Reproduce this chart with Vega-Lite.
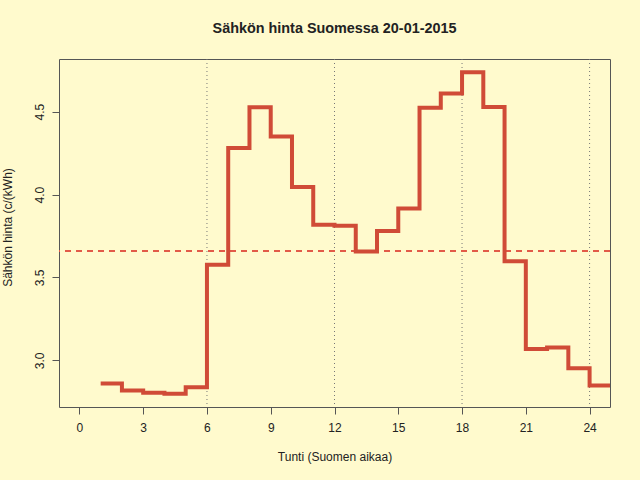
{
  "$schema": "https://vega.github.io/schema/vega-lite/v6.json",
  "autosize": "none",
  "padding": {"left": 59, "top": 59, "right": 30, "bottom": 73},
  "width": 551,
  "height": 348,
  "background": "#FFFACD",
  "title": {
    "text": "Sähkön hinta Suomessa 20-01-2015",
    "font": "Liberation Sans",
    "fontSize": 14.4,
    "fontWeight": "bold",
    "color": "#222222",
    "anchor": "middle",
    "frame": "group",
    "offset": 22
  },
  "config": {
    "view": {"stroke": "#555555", "strokeWidth": 1, "fill": null},
    "axis": {
      "labelFont": "Liberation Sans",
      "titleFont": "Liberation Sans",
      "labelFontSize": 12,
      "titleFontSize": 12,
      "titleFontWeight": "normal",
      "labelColor": "#222222",
      "titleColor": "#222222",
      "domainColor": "#555555",
      "tickColor": "#555555",
      "tickSize": 7,
      "grid": false
    }
  },
  "datasets": {
    "hinta": [
      {"tunti": 1, "hinta": 2.86},
      {"tunti": 2, "hinta": 2.818},
      {"tunti": 3, "hinta": 2.804},
      {"tunti": 4, "hinta": 2.798},
      {"tunti": 5, "hinta": 2.838},
      {"tunti": 6, "hinta": 3.576},
      {"tunti": 7, "hinta": 4.28},
      {"tunti": 8, "hinta": 4.526},
      {"tunti": 9, "hinta": 4.35},
      {"tunti": 10, "hinta": 4.046},
      {"tunti": 11, "hinta": 3.818},
      {"tunti": 12, "hinta": 3.812},
      {"tunti": 13, "hinta": 3.657},
      {"tunti": 14, "hinta": 3.78},
      {"tunti": 15, "hinta": 3.916},
      {"tunti": 16, "hinta": 4.524},
      {"tunti": 17, "hinta": 4.61},
      {"tunti": 18, "hinta": 4.738},
      {"tunti": 19, "hinta": 4.528},
      {"tunti": 20, "hinta": 3.598},
      {"tunti": 21, "hinta": 3.068},
      {"tunti": 22, "hinta": 3.078},
      {"tunti": 23, "hinta": 2.952},
      {"tunti": 24, "hinta": 2.848},
      {"tunti": 25, "hinta": 2.848}
    ],
    "jakso": [
      {"tunti": 6},
      {"tunti": 12},
      {"tunti": 18},
      {"tunti": 24}
    ]
  },
  "layer": [
    {
      "data": {"name": "jakso"},
      "mark": {"type": "rule", "color": "#777777", "strokeWidth": 1, "strokeDash": [1, 3]},
      "encoding": {
        "x": {"field": "tunti", "type": "quantitative"}
      }
    },
    {
      "data": {"name": "hinta"},
      "transform": [{"filter": "datum.tunti <= 24"}],
      "mark": {"type": "rule", "color": "#E25A48", "strokeWidth": 2, "strokeDash": [6, 5]},
      "encoding": {
        "y": {"aggregate": "mean", "field": "hinta", "type": "quantitative"}
      }
    },
    {
      "data": {"name": "hinta"},
      "mark": {"type": "line", "interpolate": "step-after", "color": "#D04B37", "strokeWidth": 4, "clip": true},
      "encoding": {
        "x": {
          "field": "tunti",
          "type": "quantitative",
          "scale": {"domain": [-0.96, 24.96], "nice": false, "zero": false},
          "axis": {
            "title": "Tunti (Suomen aikaa)",
            "values": [0, 3, 6, 9, 12, 15, 18, 21, 24],
            "labelPadding": 8,
            "titleY": 44,
            "titleBaseline": "top",
            "domain": false
          }
        },
        "y": {
          "field": "hinta",
          "type": "quantitative",
          "scale": {"domain": [2.7184, 4.8176], "nice": false, "zero": false},
          "axis": {
            "title": "Sähkön hinta (c/(kWh)",
            "values": [3.0, 3.5, 4.0, 4.5],
            "format": ".1f",
            "labelAngle": -90,
            "labelPadding": 6,
            "titleX": -45,
            "titleY": 168,
            "domain": false
          }
        }
      }
    }
  ]
}
